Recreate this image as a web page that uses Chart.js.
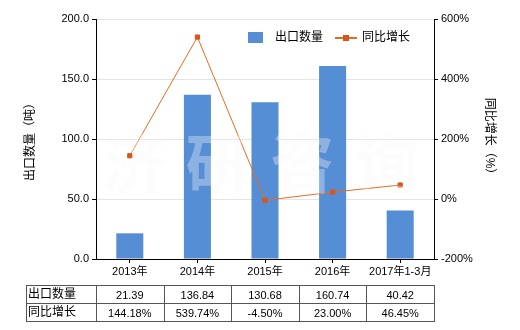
<!DOCTYPE html>
<html>
<head>
<meta charset="utf-8">
<script src="https://cdn.jsdelivr.net/npm/chart.js@4/dist/chart.umd.min.js"></script>
<style>
  html, body { margin: 0; padding: 0; background: #fff; }
  #wrap { position: relative; width: 520px; height: 330px; }
</style>
</head>
<body>
<div id="wrap"><canvas id="c" width="520" height="330"></canvas></div>
<script>
// chart data
const categories = ["2013年", "2014年", "2015年", "2016年", "2017年1-3月"];
const exportQty = [21.39, 136.84, 130.68, 160.74, 40.42];
const yoyGrowth = [144.18, 539.74, -4.50, 23.00, 46.45];
const qtyLabel = "出口数量";
const growthLabel = "同比增长";
const leftTitle = "出口数量（吨）";
const rightTitle = "同比增长（%）";
const watermark = ["济", "研", "咨", "询"];

const FONT = '"Liberation Sans", "Noto Sans CJK SC", sans-serif';
const BAR = "#558ed5";
const LINE = "#e46c20";
const MARK = "#d9561a";

// legend, data table under the axis and the faint watermark
const extras = {
  id: "extras",
  afterDraw(chart) {
    const { ctx, chartArea, scales } = chart;
    const x = scales.x;
    ctx.save();

    // legend
    ctx.font = "12px " + FONT;
    ctx.textBaseline = "middle";
    ctx.fillStyle = BAR;
    ctx.fillRect(248, 32, 15, 11);
    ctx.fillStyle = "#000";
    ctx.fillText(qtyLabel, 275, 38);
    ctx.strokeStyle = LINE;
    ctx.lineWidth = 2;
    ctx.beginPath(); ctx.moveTo(335, 38); ctx.lineTo(357, 38); ctx.stroke();
    ctx.fillStyle = MARK;
    ctx.fillRect(343, 35, 6, 6);
    ctx.fillStyle = "#000";
    ctx.fillText(growthLabel, 362, 38);

    // table
    const half = (x.getPixelForValue(1) - x.getPixelForValue(0)) / 2;
    const tLeft = 26.5, tTop = 285.5, rowH = 18, tBottom = tTop + rowH * 2;
    const tRight = Math.round(x.getPixelForValue(categories.length - 1) + half) + 0.5;
    ctx.strokeStyle = "#555";
    ctx.lineWidth = 1;
    ctx.strokeRect(tLeft, tTop, tRight - tLeft, rowH * 2);
    ctx.beginPath();
    ctx.moveTo(tLeft, tTop + rowH); ctx.lineTo(tRight, tTop + rowH);
    for (let i = 0; i < categories.length; i++) {
      const bx = Math.round(x.getPixelForValue(i) - half) + 0.5;
      ctx.moveTo(bx, tTop); ctx.lineTo(bx, tBottom);
    }
    ctx.stroke();
    ctx.fillStyle = "#000";
    ctx.textAlign = "left";
    ctx.font = "12px " + FONT;
    ctx.fillText(qtyLabel, 28, tTop + rowH / 2);
    ctx.fillText(growthLabel, 28, tTop + rowH * 1.5);
    ctx.font = "11px " + FONT;
    ctx.textAlign = "center";
    categories.forEach((_, i) => {
      const cx = x.getPixelForValue(i);
      ctx.fillText(exportQty[i].toFixed(2), cx, tTop + rowH / 2 + 1);
      ctx.fillText(yoyGrowth[i].toFixed(2) + "%", cx, tTop + rowH * 1.5 + 1);
    });

    // watermark - almost invisible on white, lightens the bars
    ctx.font = "bold 64px " + FONT;
    ctx.fillStyle = "rgba(246,246,250,0.35)";
    ctx.textBaseline = "middle";
    const w = chartArea.right - chartArea.left;
    watermark.forEach((ch, i) => {
      ctx.fillText(ch, chartArea.left + w * (0.11 + i * 0.25), chartArea.top + 150);
    });
    ctx.restore();
  }
};

new Chart(document.getElementById("c"), {
  data: {
    labels: categories,
    datasets: [
      {
        type: "line",
        label: growthLabel,
        data: yoyGrowth,
        yAxisID: "y1",
        borderColor: LINE,
        borderWidth: 1,
        pointStyle: "rect",
        pointRadius: 3,
        pointBackgroundColor: MARK,
        pointBorderColor: MARK,
        tension: 0,
        order: 0
      },
      {
        type: "bar",
        label: qtyLabel,
        data: exportQty,
        yAxisID: "y",
        backgroundColor: BAR,
        categoryPercentage: 1,
        barPercentage: 0.4,
        order: 1
      }
    ]
  },
  options: {
    responsive: false,
    animation: false,
    layout: { padding: { top: 19, left: 0, right: 0, bottom: 0 } },
    plugins: { legend: { display: false }, tooltip: { enabled: false } },
    scales: {
      x: {
        grid: { drawOnChartArea: false, offset: false, tickLength: 4, tickColor: "#000" },
        border: { color: "#000" },
        ticks: { color: "#000", font: { family: FONT, size: 11 }, padding: 2, maxRotation: 0 },
        afterFit: s => { s.height = 71; }
      },
      y: {
        position: "left",
        min: 0, max: 200,
        ticks: { stepSize: 50, color: "#000", font: { family: FONT, size: 11 }, padding: 3,
                 callback: v => v.toFixed(1) },
        grid: { color: "#e4e4e4", tickColor: "#000", tickLength: 4 },
        border: { color: "#000" },
        title: { display: true, text: leftTitle, color: "#000",
                 font: { family: FONT, size: 12 }, padding: { top: 23, bottom: 0 } },
        afterFit: s => { s.width = 96; }
      },
      y1: {
        position: "right",
        min: -200, max: 600,
        ticks: { stepSize: 200, color: "#000", font: { family: FONT, size: 11 }, padding: 3,
                 callback: v => v + "%" },
        grid: { drawOnChartArea: false, tickColor: "#000", tickLength: 4 },
        border: { color: "#000" },
        title: { display: true, text: rightTitle, color: "#000",
                 font: { family: FONT, size: 12 }, padding: { top: 23, bottom: 0 } },
        afterFit: s => { s.width = 86; }
      }
    }
  },
  plugins: [extras]
});
</script>
</body>
</html>
